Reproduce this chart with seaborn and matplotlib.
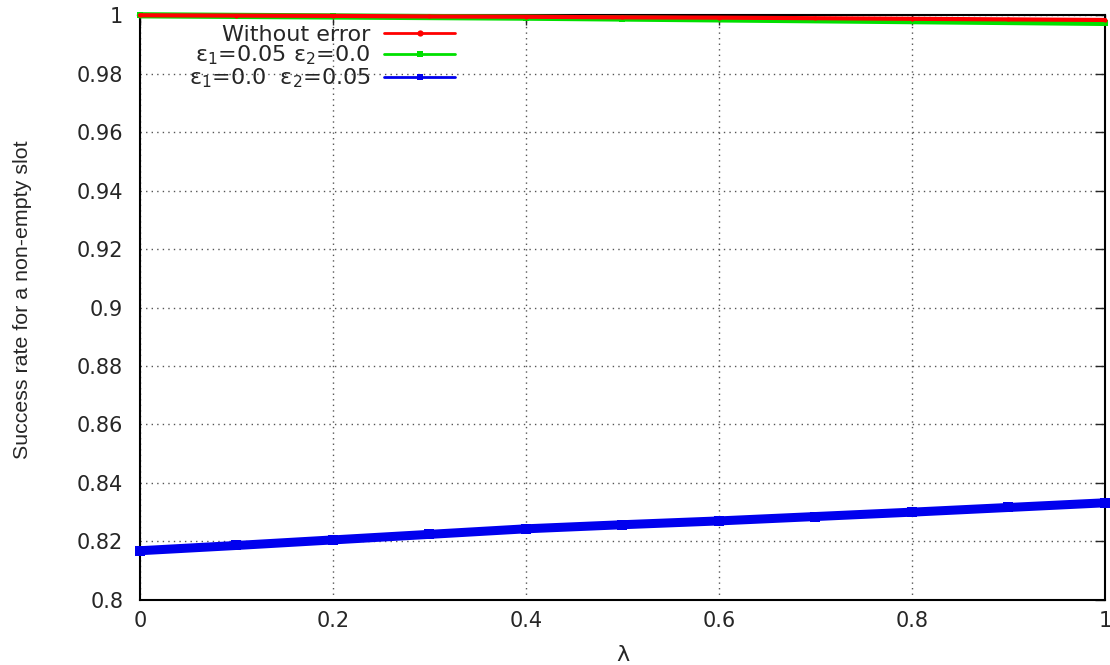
import numpy as np
import pandas as pd
import matplotlib
matplotlib.use("Agg")
import matplotlib.pyplot as plt
import seaborn as sns

# data
lam = [0.0, 0.1, 0.2, 0.3, 0.4, 0.5, 0.6, 0.7, 0.8, 0.9, 1.0]
no_err = [1.0000, 0.9999, 0.9998, 0.9996, 0.9995, 0.9993, 0.9992, 0.9990, 0.9988, 0.9986, 0.9984]
eps1_err = [1.0000, 0.9998, 0.9996, 0.9994, 0.9992, 0.9989, 0.9986, 0.9983, 0.9980, 0.9977, 0.9974]
eps2_err = [0.8168, 0.8186, 0.8205, 0.8224, 0.8243, 0.8257, 0.8270, 0.8285, 0.8300, 0.8316, 0.8332]

labels = ["Without error",
          r"ε$_1$=0.05 ε$_2$=0.0",
          r"ε$_1$=0.0  ε$_2$=0.05"]
colors = ["#ff0000", "#00e000", "#0000ee"]
xticks = [0, 0.2, 0.4, 0.6, 0.8, 1]
yticks = [0.8, 0.82, 0.84, 0.86, 0.88, 0.9, 0.92, 0.94, 0.96, 0.98, 1]

df = pd.concat([
    pd.DataFrame({"lam": lam, "rate": v, "series": lab})
    for v, lab in zip([no_err, eps1_err, eps2_err], labels)
])

sns.set_style("white")
plt.rcParams["font.family"] = ["DejaVu Sans"]
plt.rcParams["mathtext.fontset"] = "dejavusans"

fig = plt.figure(figsize=(11.1, 6.65), dpi=100)
ax = fig.add_axes([0.126, 0.098, 0.8695, 0.879])

widths = [3, 4.5, 6.5]
zorders = [4, 3, 3]
markers = ["o", "s", "s"]
for lab, col, lw, mk, zo in zip(labels, colors, widths, markers, zorders):
    sub = df[df["series"] == lab]
    sns.lineplot(data=sub, x="lam", y="rate", ax=ax, color=col, lw=lw,
                 marker=mk, markersize=lw, markeredgewidth=0,
                 label=lab, clip_on=False, zorder=zo)

ax.set_xlim(0, 1)
ax.set_ylim(0.8, 1)
ax.set_xticks(xticks)
ax.set_xticklabels([f"{t:g}" for t in xticks])
ax.set_yticks(yticks)
ax.set_yticklabels([f"{t:g}" for t in yticks])
ax.tick_params(direction="in", top=True, right=True, length=7, width=1,
               labelsize=15)
ax.tick_params(axis="x", pad=8)
ax.tick_params(axis="y", pad=12)
ax.grid(True, linestyle=(0, (1, 3)), color="#555555", lw=1)
for s in ax.spines.values():
    s.set_color("black")
    s.set_linewidth(1.5)

ax.set_xlabel("λ", fontsize=16)
ax.set_ylabel("Success rate for a non-empty slot", fontsize=15.4,
              family="Liberation Sans")
ax.yaxis.set_label_coords(-0.112, 0.513)
ax.xaxis.set_label_coords(0.5, -0.078)

leg = ax.legend(loc="upper left", bbox_to_anchor=(0.0345, 1.01), frameon=False,
                markerfirst=False, fontsize=16, handlelength=3.2,
                handletextpad=0.6, labelspacing=-0.05, borderpad=0.2)
leg._legend_box._children[-1]._children[0].align = "right"
for h in leg.legend_handles:
    h.set_linewidth(2)
    h.set_markersize(4.5)

fig.savefig("out.png", dpi=100)
